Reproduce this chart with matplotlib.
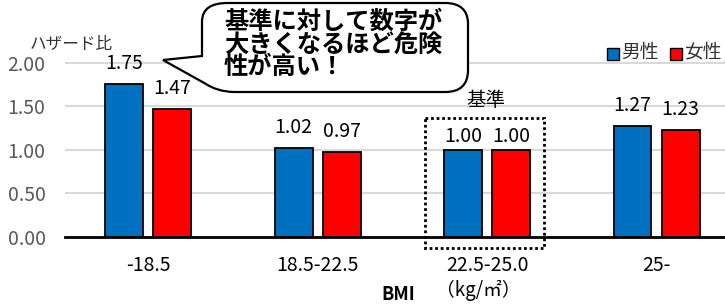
import matplotlib
matplotlib.use('Agg')
import matplotlib.pyplot as plt
import numpy as np
from matplotlib.path import Path
from matplotlib.patches import PathPatch, Rectangle
from matplotlib.transforms import Affine2D

plt.rcParams['font.family'] = ['Noto Sans CJK JP', 'DejaVu Sans']

# ---- data ----
categories = ['-18.5', '18.5-22.5', '22.5-25.0', '25-']
male = [1.75, 1.02, 1.00, 1.27]
female = [1.47, 0.97, 1.00, 1.23]
series_names = ['男性', '女性']
yticks = [0.0, 0.5, 1.0, 1.5, 2.0]
baseline_index = 2
callout_lines = ['基準に対して数字が', '大きくなるほど危険', '性が高い！']

W, H = 725, 307
fig = plt.figure(figsize=(W / 100, H / 100), dpi=100)
px = Affine2D().scale(1 / W, -1 / H).translate(0, 1) + fig.transFigure

unit = 87.0  # pixels per 1.0 on y
y0 = 236.7
ytop = 2.05
ax_left, ax_right = 65, 725
ax_top = y0 - ytop * unit
ax = fig.add_axes([ax_left / W, 1 - y0 / H, (ax_right - ax_left) / W, (y0 - ax_top) / H])

x = np.arange(len(categories))
bw, off = 0.224, 0.142
colors = ['#0070C0', '#FF0000']
bm = ax.bar(x - off, male, bw, color=colors[0], edgecolor='black', linewidth=1.3, zorder=3)
bf = ax.bar(x + off, female, bw, color=colors[1], edgecolor='black', linewidth=1.3, zorder=3)
ax.set_xlim(-0.492, 3.404)
ax.set_ylim(0, ytop)

ax.set_yticks(yticks)
ax.set_yticklabels([f'{v:.2f}' for v in yticks])
ax.yaxis.grid(True, color='#d9d9d9', linewidth=1.5)
ax.set_axisbelow(True)
for s in ['top', 'right', 'left']:
    ax.spines[s].set_visible(False)
ax.spines['bottom'].set_color('black')
ax.spines['bottom'].set_linewidth(2)
ax.spines['bottom'].set_zorder(4)
ax.tick_params(axis='y', length=0, pad=14, labelsize=14, labelcolor='#595959')
ax.set_xticks(x)
ax.set_xticklabels(categories)
ax.tick_params(axis='x', length=0, pad=13, labelsize=14, labelcolor='black')

for i in range(len(categories)):
    dy = 9.8 if i == baseline_index else 14.8
    for xpos, v in [(x[i] - off, male[i]), (x[i] + off, female[i])]:
        ax.annotate(f'{v:.2f}', (xpos, v), xytext=(0, dy), textcoords='offset points',
                    ha='center', va='center', fontsize=14, color='black')

# y-axis title
fig.text(30, 45, 'ハザード比', transform=px, ha='left', va='center', fontsize=12, color='#333333')

# x-axis title
fig.text(398, 294, 'BMI', transform=px, ha='center', va='center', fontsize=13, fontweight='bold')
fig.text(478, 290, '（kg/㎡）', transform=px, ha='center', va='center', fontsize=13.5)

# legend
for (lx, name, c) in [(607, series_names[0], colors[0]), (670, series_names[1], colors[1])]:
    fig.add_artist(Rectangle((lx, 48), 12, 12, transform=px, facecolor=c, edgecolor='black', linewidth=1))
    fig.text(lx + 14, 52, name, transform=px, ha='left', va='center', fontsize=13.5, color='#333333')

# baseline box
fig.add_artist(Rectangle((425, 118), 119, 130, transform=px, fill=False, edgecolor='black',
                         linewidth=2, linestyle=(0, (1, 1))))
fig.text(486, 100, '基準', transform=px, ha='center', va='center', fontsize=14)

# callout bubble
verts = [(163, 60), (202, 56), (202, 22),
         (202, 8), (212, 3), (228, 3),
         (445, 3),
         (460, 3), (468, 10), (468, 24),
         (468, 70),
         (468, 85), (460, 92), (445, 92),
         (235, 92),
         (222, 92), (212, 88), (206, 84),
         (163, 60), (163, 60)]
codes = [Path.MOVETO, Path.LINETO, Path.LINETO,
         Path.CURVE4, Path.CURVE4, Path.CURVE4,
         Path.LINETO,
         Path.CURVE4, Path.CURVE4, Path.CURVE4,
         Path.LINETO,
         Path.CURVE4, Path.CURVE4, Path.CURVE4,
         Path.LINETO,
         Path.CURVE4, Path.CURVE4, Path.CURVE4,
         Path.LINETO, Path.CLOSEPOLY]
bubble = PathPatch(Path(verts, codes), transform=px, facecolor='white', edgecolor='black',
                   linewidth=1.6, zorder=10)
fig.add_artist(bubble)
for yy, line in zip([22, 44.5, 67], callout_lines):
    fig.text(224, yy, line, transform=px, ha='left', va='center', fontsize=17.5,
             fontweight='bold', color='black', zorder=11)

fig.savefig('out.png', dpi=100)
